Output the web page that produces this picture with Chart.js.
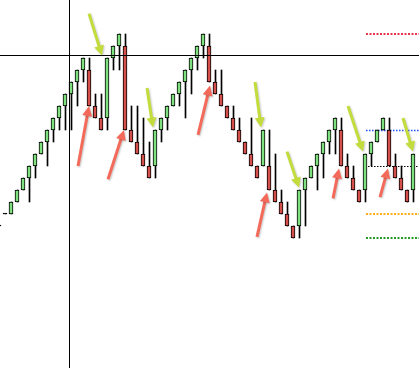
<!DOCTYPE html>
<html><head><meta charset="utf-8">
<script src="https://cdn.jsdelivr.net/npm/chart.js@4.4.0/dist/chart.umd.min.js"></script>
<style>html,body{margin:0;padding:0;background:#fff;overflow:hidden}canvas{display:block}</style>
</head><body>
<canvas id="c" width="419" height="368"></canvas>
<script>
// ---- data (bar index 0..69, prices) ----
const barIndex = Array.from({length: 70}, (_, i) => i);
const opens = [1.0990,1.1000,1.1000,1.1010,1.1020,1.1030,1.1040,1.1050,1.1060,1.1070,1.1080,1.1090,1.1100,1.1110,1.1120,1.1120,1.1090,1.1080,1.1080,1.1130,1.1140,1.1140,1.1070,1.1060,1.1050,1.1040,1.1040,1.1070,1.1080,1.1090,1.1100,1.1110,1.1120,1.1130,1.1140,1.1140,1.1110,1.1100,1.1090,1.1080,1.1070,1.1060,1.1050,1.1040,1.1040,1.1040,1.1020,1.1010,1.1000,1.0990,1.0990,1.1020,1.1030,1.1040,1.1050,1.1060,1.1070,1.1070,1.1040,1.1030,1.1020,1.1020,1.1050,1.1060,1.1070,1.1070,1.1040,1.1030,1.1020,1.1020];
const closes = [1.0990,1.1000,1.1010,1.1020,1.1030,1.1040,1.1050,1.1060,1.1070,1.1080,1.1090,1.1100,1.1110,1.1120,1.1130,1.1090,1.1080,1.1070,1.1130,1.1140,1.1150,1.1070,1.1060,1.1050,1.1040,1.1030,1.1070,1.1080,1.1090,1.1100,1.1110,1.1120,1.1130,1.1140,1.1150,1.1110,1.1100,1.1090,1.1080,1.1070,1.1060,1.1050,1.1040,1.1030,1.1070,1.1020,1.1010,1.1000,1.0990,1.0980,1.1020,1.1030,1.1040,1.1050,1.1060,1.1070,1.1080,1.1040,1.1030,1.1020,1.1010,1.1050,1.1060,1.1070,1.1080,1.1040,1.1030,1.1020,1.1010,1.1050];
const highs = [1.0990,1.1000,1.1010,1.1020,1.1030,1.1040,1.1050,1.1060,1.1070,1.1080,1.1090,1.1100,1.1110,1.1120,1.1130,1.1130,1.1100,1.1100,1.1130,1.1140,1.1150,1.1150,1.1090,1.1090,1.1080,1.1060,1.1070,1.1080,1.1090,1.1100,1.1110,1.1120,1.1130,1.1140,1.1150,1.1150,1.1120,1.1120,1.1090,1.1090,1.1080,1.1060,1.1080,1.1040,1.1070,1.1070,1.1050,1.1020,1.1010,1.0990,1.1020,1.1030,1.1040,1.1050,1.1060,1.1070,1.1080,1.1080,1.1050,1.1040,1.1020,1.1050,1.1060,1.1070,1.1080,1.1080,1.1050,1.1040,1.1020,1.1050];
const lows = [1.0990,1.1000,1.1000,1.1010,1.1020,1.1010,1.1030,1.1050,1.1040,1.1060,1.1070,1.1070,1.1070,1.1090,1.1110,1.1090,1.1080,1.1070,1.1070,1.1120,1.1120,1.1070,1.1060,1.1050,1.1040,1.1030,1.1030,1.1060,1.1070,1.1090,1.1090,1.1080,1.1100,1.1120,1.1130,1.1110,1.1100,1.1090,1.1080,1.1070,1.1060,1.1050,1.1040,1.1030,1.1040,1.1020,1.1010,1.1000,1.0990,1.0980,1.0980,1.0990,1.1030,1.1020,1.1030,1.1050,1.1050,1.1040,1.1030,1.1020,1.1010,1.1010,1.1040,1.1060,1.1070,1.1040,1.1030,1.1020,1.1010,1.1010];

// horizontal levels (price, first bar index)
const levelPrices = [1.1150, 1.1070, 1.1040, 1.1000, 1.0980];
const levelStarts = [61.17, 61.17, 61.5, 61.17, 61.17];

// crosshair (bar index, price)
const crossBar = 11.67;
const crossPrice = 1.11329;

// arrows: [fromBar, fromPrice, toBar, toPrice]
const buyArrows = [
  [15.0, 1.1167, 17.17, 1.1132],
  [24.67, 1.1105, 25.67, 1.1072],
  [42.67, 1.1110, 43.67, 1.1072],
  [48.0, 1.1052, 50.0, 1.1022],
  [58.17, 1.1090, 60.67, 1.1052],
  [67.33, 1.1080, 69.0, 1.1052]
];
const sellArrows = [
  [13.17, 1.1040, 15.0, 1.1090],
  [18.17, 1.1029, 20.83, 1.1070],
  [33.17, 1.1066, 35.17, 1.1107],
  [43.0, 1.0981, 44.67, 1.1018],
  [55.67, 1.1013, 56.67, 1.1038],
  [63.5, 1.1014, 64.83, 1.1038]
];

// ---- styles ----
const UP = '#7fe07f', DOWN = '#d4504b';
const levelStyles = [
  {color:'#e8334a', width:2, dash:[2,1.5]},
  {color:'#1f4fff', width:1.5, dash:[1.5,1.5]},
  {color:'#000000', width:1, dash:[1.5,1.5]},
  {color:'#ffae1a', width:2, dash:[2,1.5]},
  {color:'#259b25', width:2, dash:[2,1.5]}
];

function drawArrow(ctx, x1, y1, x2, y2, color) {
  const ang = Math.atan2(y2 - y1, x2 - x1);
  const hl = 10, hw = 5;
  const bx = x2 - hl * Math.cos(ang), by = y2 - hl * Math.sin(ang);
  ctx.save();
  ctx.shadowColor = 'rgba(0,0,0,0.22)';
  ctx.shadowBlur = 2; ctx.shadowOffsetX = 1; ctx.shadowOffsetY = 1;
  ctx.strokeStyle = color; ctx.fillStyle = color;
  ctx.lineWidth = 3;
  ctx.beginPath(); ctx.moveTo(x1, y1); ctx.lineTo(bx + Math.cos(ang), by + Math.sin(ang)); ctx.stroke();
  ctx.beginPath();
  ctx.moveTo(x2, y2);
  ctx.lineTo(bx + hw * Math.sin(ang), by - hw * Math.cos(ang));
  ctx.lineTo(bx - hw * Math.sin(ang), by + hw * Math.cos(ang));
  ctx.closePath(); ctx.fill();
  ctx.restore();
}

const overlay = {
  id: 'overlay',
  beforeDatasetsDraw(chart) {
    const {ctx, scales: {x, y}, chartArea} = chart;
    ctx.save();
    levelPrices.forEach((p, i) => {
      const st = levelStyles[i];
      const py = Math.round(y.getPixelForValue(p)) + (st.width % 2 ? 0.5 : 0);
      ctx.strokeStyle = st.color; ctx.lineWidth = st.width; ctx.setLineDash(st.dash);
      ctx.beginPath(); ctx.moveTo(x.getPixelForValue(levelStarts[i]), py); ctx.lineTo(chartArea.right, py); ctx.stroke();
    });
    ctx.restore();
  },
  afterDatasetsDraw(chart) {
    const {ctx, scales: {x, y}, chartArea} = chart;
    ctx.save();
    ctx.strokeStyle = '#000'; ctx.lineWidth = 1;
    const cx = Math.round(x.getPixelForValue(crossBar)) + 0.5;
    const cy = Math.round(y.getPixelForValue(crossPrice)) + 0.5;
    ctx.beginPath();
    ctx.moveTo(cx, chartArea.top); ctx.lineTo(cx, chartArea.bottom);
    ctx.moveTo(chartArea.left, cy); ctx.lineTo(chartArea.right, cy);
    ctx.stroke();
    ctx.restore();
    buyArrows.forEach(a => drawArrow(ctx, x.getPixelForValue(a[0]), y.getPixelForValue(a[1]), x.getPixelForValue(a[2]), y.getPixelForValue(a[3]), '#c3dc3c'));
    sellArrows.forEach(a => drawArrow(ctx, x.getPixelForValue(a[0]), y.getPixelForValue(a[1]), x.getPixelForValue(a[2]), y.getPixelForValue(a[3]), '#f36a5a'));
  }
};

new Chart(document.getElementById('c'), {
  type: 'bar',
  data: {
    datasets: [
      {
        label: 'wick',
        data: barIndex.map(i => ({x: i, y: [lows[i], highs[i]]})),
        xAxisID: 'xw',
        backgroundColor: '#000',
        borderWidth: 0,
        barThickness: 1,
        grouped: false,
        order: 2
      },
      {
        label: 'body',
        data: barIndex.map(i => ({x: i, y: [opens[i], closes[i]]})),
        xAxisID: 'x',
        backgroundColor: c => {
          const i = c.dataIndex;
          if (i === undefined) return UP;
          if (opens[i] === closes[i]) return '#000';
          return closes[i] > opens[i] ? UP : DOWN;
        },
        borderColor: '#000',
        borderWidth: 1,
        borderSkipped: false,
        barThickness: 4,
        minBarLength: 1,
        grouped: false,
        order: 1
      }
    ]
  },
  options: {
    responsive: false,
    animation: false,
    devicePixelRatio: 1,
    layout: {padding: 0},
    plugins: {legend: {display: false}, tooltip: {enabled: false}},
    scales: {
      x: {type: 'linear', min: 1/6, max: 70, offset: false, display: false},
      xw: {type: 'linear', min: 1/12, max: 70 - 1/12, offset: false, display: false},
      y: {type: 'linear', min: 1.1 - 154/12000, max: 1.1 + 214/12000, display: false}
    }
  },
  plugins: [overlay]
});
</script>
</body></html>
